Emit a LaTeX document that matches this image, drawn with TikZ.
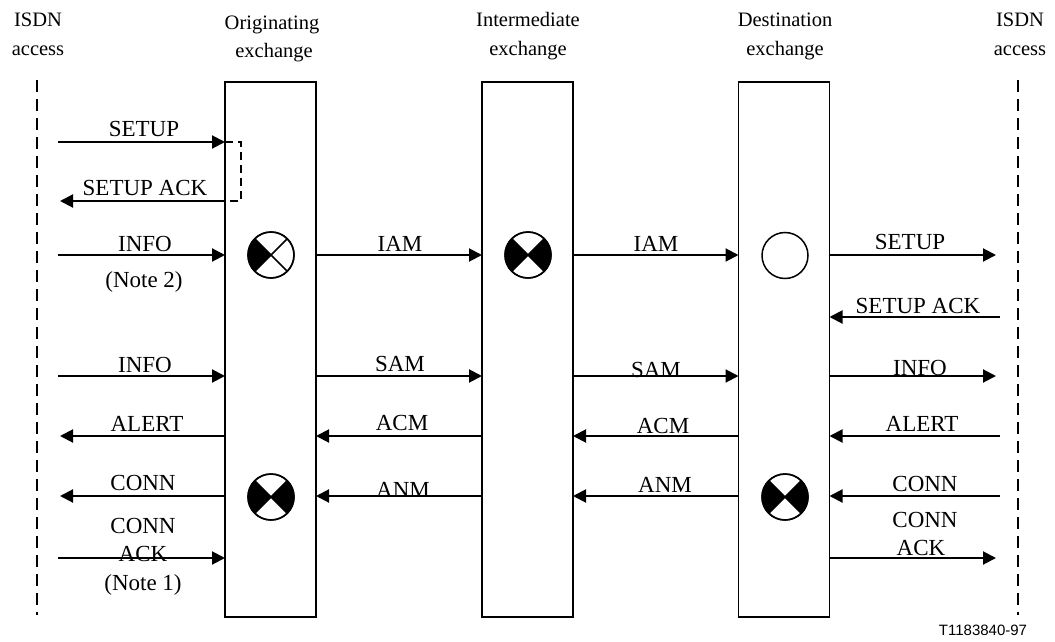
\documentclass[tikz,border=0pt]{standalone}
\usepackage{fontspec}
\setmainfont{Liberation Serif}
\newfontfamily\figsans{Liberation Sans}
\usetikzlibrary{arrows.meta}
\begin{document}
\begin{tikzpicture}[x=1pt,y=-1pt,
  lbl/.style={anchor=base,inner sep=0pt,font=\fontsize{23}{27}\selectfont},
  hdr/.style={anchor=base,inner sep=0pt,font=\fontsize{20.5}{25}\selectfont},
  msg/.style={line width=2pt,-{Triangle[length=13pt,width=13pt]}},
  exch/.style={draw,line width=1.3pt,minimum width=91pt,minimum height=535pt,inner sep=0pt,outer sep=0pt},
  access/.style={line width=2pt,dash pattern=on 12pt off 7pt},
  sym/.style={draw,circle,line width=1.5pt,minimum size=46pt,inner sep=0pt,outer sep=0pt}]
\useasboundingbox (0,0) rectangle (1055,642);
% headings
\node[hdr] (h1a) at (38,27) {ISDN};
\node[hdr] (h1b) at (38,56) {access};
\node[hdr] (h2a) at (272,30) {Originating};
\node[hdr] (h2b) at (274,58) {exchange};
\node[hdr] (h3a) at (528,27) {Intermediate};
\node[hdr] (h3b) at (528,56) {exchange};
\node[hdr] (h4a) at (785,27) {Destination};
\node[hdr] (h4b) at (785,56) {exchange};
\node[hdr] (h5a) at (1020,27) {ISDN};
\node[hdr] (h5b) at (1020,56) {access};
% access lines
\coordinate (la) at (37,80);
\coordinate (lb) at (37,615);
\coordinate (ra) at (1018,80);
\coordinate (rb) at (1018,615);
\draw[access] (la) -- (lb);
\draw[access] (ra) -- (rb);
% exchanges
\node[exch] (ex1) at (270.5,349.5) {};
\node[exch] (ex2) at (527.5,349.5) {};
\node[exch] (ex3) at (784,349.5) {};
% symbols
\node[sym] (s1) at (271,255) {};
\node[sym] (s2) at (528,255) {};
\node[sym] (s3) at (785,255.5) {};
\node[sym] (s4) at (271,497) {};
\node[sym] (s5) at (785,497) {};
\fill (s1.center) -- +(135:23pt) arc[start angle=135,end angle=225,radius=23pt] -- cycle;
\foreach \s in {s2,s4,s5}{
  \fill (\s.center) -- +(135:23pt) arc[start angle=135,end angle=225,radius=23pt] -- cycle;
  \fill (\s.center) -- +(-45:23pt) arc[start angle=-45,end angle=45,radius=23pt] -- cycle;
}
\foreach \s in {s1,s2,s4,s5}{
  \draw[line width=1.5pt] (\s.45) -- (\s.225) (\s.135) -- (\s.315);
  \draw[line width=1.5pt] (\s.center) circle[radius=23pt];
}
% left side messages
\draw[msg] (58,142) -- (ex1.west |- 0,142);
\node[lbl] (m1) at (144,136) {SETUP};
\draw[line width=1.6pt,dash pattern=on 8pt off 5pt] (ex1.west |- 0,142) -- (241,142) -- (241,201) -- (ex1.west |- 0,201);
\draw[msg] (ex1.west |- 0,201) -- (60,201);
\node[lbl] (m2) at (145,195) {SETUP ACK};
\draw[msg] (58,255) -- (ex1.west |- 0,255);
\node[lbl] (m3) at (145,251) {INFO};
\node[lbl] (n2) at (144,287) {(Note 2)};
\draw[msg] (58,376) -- (ex1.west |- 0,376);
\node[lbl] (m4) at (145,372) {INFO};
\draw[msg] (ex1.west |- 0,436) -- (60,436);
\node[lbl] (m5) at (147,431) {ALERT};
\draw[msg] (ex1.west |- 0,496) -- (60,496);
\node[lbl] (m6) at (143,490) {CONN};
\draw[msg] (58,558) -- (ex1.west |- 0,558);
\node[lbl] (m7) at (143,533) {CONN};
\node[lbl] (m7b) at (143,561) {ACK};
\node[lbl] (n1) at (143,590) {(Note 1)};
% between exchanges
\draw[msg] (ex1.east |- 0,255) -- (ex2.west |- 0,255);
\node[lbl] (i1) at (400,251) {IAM};
\draw[msg] (ex2.east |- 0,255) -- (ex3.west |- 0,255);
\node[lbl] (i2) at (656,251) {IAM};
\draw[msg] (ex1.east |- 0,376) -- (ex2.west |- 0,376);
\node[lbl] (i3) at (400,371) {SAM};
\draw[msg] (ex2.east |- 0,376) -- (ex3.west |- 0,376);
\node[lbl] (i4) at (656,377) {SAM};
\draw[msg] (ex2.west |- 0,436) -- (ex1.east |- 0,436);
\node[lbl] (i5) at (402,430) {ACM};
\draw[msg] (ex3.west |- 0,436) -- (ex2.east |- 0,436);
\node[lbl] (i6) at (663,433) {ACM};
\draw[msg] (ex2.west |- 0,496) -- (ex1.east |- 0,496);
\node[lbl] (i7) at (403,497) {ANM};
\draw[msg] (ex3.west |- 0,496) -- (ex2.east |- 0,496);
\node[lbl] (i8) at (665,492) {ANM};
% right side messages
\draw[msg] (ex3.east |- 0,255) -- (996,255);
\node[lbl] (r1) at (910,249) {SETUP};
\draw[msg] (1000,317) -- (ex3.east |- 0,317);
\node[lbl] (r2) at (918,313) {SETUP ACK};
\draw[msg] (ex3.east |- 0,376) -- (996,376);
\node[lbl] (r3) at (920,375) {INFO};
\draw[msg] (1000,436) -- (ex3.east |- 0,436);
\node[lbl] (r4) at (922,431) {ALERT};
\draw[msg] (1000,496) -- (ex3.east |- 0,496);
\node[lbl] (r5) at (925,491) {CONN};
\draw[msg] (ex3.east |- 0,558) -- (996,558);
\node[lbl] (r6) at (925,527) {CONN};
\node[lbl] (r6b) at (921,555) {ACK};
% figure id
\node[anchor=base,inner sep=0pt,font=\figsans\fontsize{15}{18}\selectfont] (fid) at (983,635) {T1183840-97};
\end{tikzpicture}
\end{document}
